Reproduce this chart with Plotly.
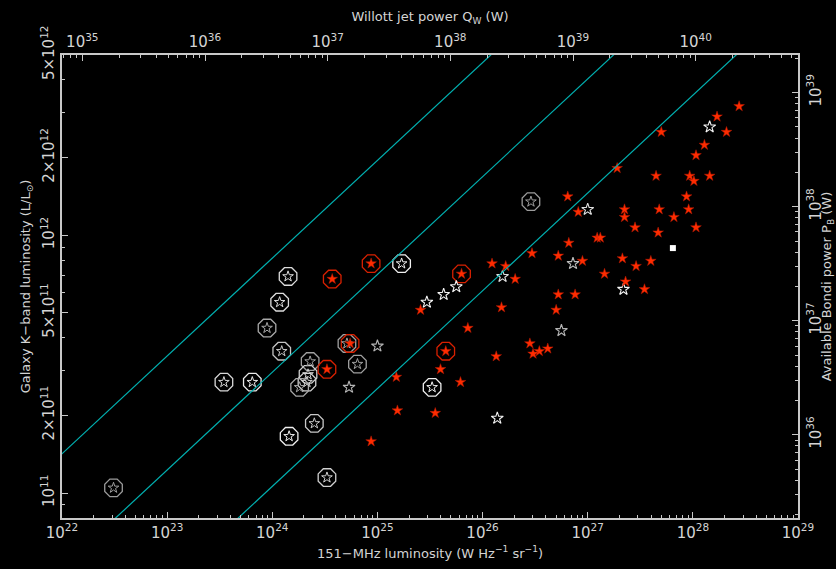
import numpy as np
import plotly.graph_objects as go

# ---------------- data (log10 values) ----------------
# Red filled stars: log10 L151 (W/Hz/sr), log10 L_K (L_sun)
red_logL = [25.41, 25.86, 25.60, 25.79, 25.18, 25.19, 25.55, 24.94, 27.28, 27.65,
            27.97, 28.01, 28.16, 26.81, 26.91, 27.35, 27.35, 27.68, 27.94, 27.96,
            27.82, 28.03, 27.45, 27.67, 27.09, 27.12, 26.82, 26.47, 26.72, 26.95,
            27.33, 27.60, 27.46, 26.09, 26.22, 26.31, 27.16, 27.36, 27.54, 26.72,
            26.88, 26.18, 26.70, 26.45, 26.54, 26.48, 26.62, 26.13, 28.44, 28.23,
            28.32, 28.11, 28.03, 27.70]
red_logK = [11.71, 11.64, 11.48, 11.43, 11.45, 11.32, 11.31, 11.20, 12.26, 12.23,
            12.23, 12.21, 12.23, 12.15, 12.09, 12.10, 12.07, 12.10, 12.15, 12.10,
            12.07, 12.03, 12.03, 12.01, 11.99, 11.99, 11.97, 11.93, 11.92, 11.90,
            11.91, 11.90, 11.88, 11.89, 11.88, 11.83, 11.85, 11.82, 11.79, 11.77,
            11.77, 11.72, 11.71, 11.58, 11.55, 11.54, 11.56, 11.53, 12.50, 12.46,
            12.40, 12.35, 12.31, 12.40]

# Red stars with red circles
redc_logL = [24.57, 24.94, 24.52, 24.74, 25.65, 25.80]
redc_logK = [11.83, 11.89, 11.48, 11.58, 11.55, 11.85]

# White open stars with circles
whc_logL = [24.15, 24.07, 23.95, 24.09, 23.81, 24.36, 24.34, 24.33, 24.26, 24.71,
            24.81, 25.23, 25.52, 24.40, 24.16, 22.49, 24.52, 26.46, 23.54]
whc_logK = [11.84, 11.74, 11.64, 11.55, 11.43, 11.51, 11.46, 11.43, 11.41, 11.58,
            11.50, 11.89, 11.41, 11.27, 11.22, 11.02, 11.06, 12.13, 11.43]
whc_shade = ["#dcdcdc", "#dcdcdc", "#a8a8a8", "#c4c4c4", "#ececec", "#a0a0a0",
             "#d0d0d0", "#d0d0d0", "#a8a8a8", "#a0a0a0", "#a0a0a0", "#f0f0f0",
             "#f0f0f0", "#c8c8c8", "#f0f0f0", "#9c9c9c", "#d0d0d0", "#9c9c9c", "#d8d8d8"]

# White open stars without circles
wh_logL = [25.00, 24.73, 25.47, 25.63, 25.75, 27.00, 26.19, 26.86, 27.34, 26.75, 28.16, 26.14]
wh_logK = [11.57, 11.41, 11.74, 11.77, 11.80, 12.10, 11.84, 11.89, 11.79, 11.63, 12.42, 11.29]
wh_shade = ["#b4b4b4", "#b4b4b4", "#f4f4f4", "#f4f4f4", "#f4f4f4", "#e0e0e0",
            "#e0e0e0", "#bcbcbc", "#f4f4f4", "#b4b4b4", "#f4f4f4", "#f4f4f4"]

# White square
sq_logL = [27.81]
sq_logK = [11.95]

# Ratios Q_W / P_B for the diagonal lines
ratios = [0.1, 1.0, 10.0]

# Axis ranges / conversions
x_range_log = [22.0, 29.0]
y_range_log = [np.log10(8e10), np.log10(5e12)]
willott_f = 10.0          # Q_W = 3e38 f^1.5 (L151/1e28)^(6/7) W
bondi_log_at_1e11 = 35.49  # log10 P_B at L_K = 1e11 L_sun
bondi_slope = 2.26

x_ticks = [22, 23, 24, 25, 26, 27, 28, 29]
q_ticks = [35, 36, 37, 38, 39, 40]
p_ticks = [36, 37, 38, 39]
k_tick_vals = [1e11, 2e11, 5e11, 1e12, 2e12, 5e12]
k_tick_text = ["10<sup>11</sup>", "2×10<sup>11</sup>", "5×10<sup>11</sup>",
               "10<sup>12</sup>", "2×10<sup>12</sup>", "5×10<sup>12</sup>"]


def logQ(logL):
    return np.log10(3e38 * willott_f ** 1.5) + (6.0 / 7.0) * (np.asarray(logL) - 28.0)


def logP(logK):
    return bondi_log_at_1e11 + bondi_slope * (np.asarray(logK) - 11.0)


q_range_log = [float(logQ(x_range_log[0])), float(logQ(x_range_log[1]))]
p_range_log = [float(logP(y_range_log[0])), float(logP(y_range_log[1]))]

# ---------------- styling ----------------
AX = "#c8c8c8"
TXT = "#d4d4d4"
FONT = "DejaVu Sans"
CYAN = "#00b0b0"
RED = "#ff2c00"


def minor_vals(lo, hi):
    out = []
    for d in range(int(np.floor(lo)) - 1, int(np.ceil(hi)) + 1):
        for m in range(2, 10):
            v = m * 10.0 ** d
            if lo <= np.log10(v) <= hi:
                out.append(v)
    return out


fig = go.Figure()

# diagonal lines Q_W = r * P_B on the (Q, P) axes
p_line = np.array([1e34, 1e41])
for r in ratios:
    fig.add_trace(go.Scatter(x=r * p_line, y=p_line, xaxis="x2", yaxis="y2",
                             mode="lines", line=dict(color=CYAN, width=1.2),
                             hoverinfo="skip", showlegend=False))

# circles around white stars
fig.add_trace(go.Scatter(x=10 ** np.array(whc_logL), y=10 ** np.array(whc_logK),
                         mode="markers",
                         marker=dict(symbol="octagon-open", size=19, color=whc_shade,
                                     line=dict(width=1.3)),
                         showlegend=False, hoverinfo="skip"))
# circles around red stars
fig.add_trace(go.Scatter(x=10 ** np.array(redc_logL), y=10 ** np.array(redc_logK),
                         mode="markers",
                         marker=dict(symbol="octagon-open", size=19, color="#d82000",
                                     line=dict(width=1.3)),
                         showlegend=False, hoverinfo="skip"))
# white stars inside circles
fig.add_trace(go.Scatter(x=10 ** np.array(whc_logL), y=10 ** np.array(whc_logK),
                         mode="markers",
                         marker=dict(symbol="star-open", size=8, color=whc_shade,
                                     line=dict(width=1)),
                         showlegend=False))
# white open stars
fig.add_trace(go.Scatter(x=10 ** np.array(wh_logL), y=10 ** np.array(wh_logK),
                         mode="markers",
                         marker=dict(symbol="star-open", size=9, color=wh_shade,
                                     line=dict(width=1.1)),
                         showlegend=False))
# red stars
all_red_L = red_logL + redc_logL
all_red_K = red_logK + redc_logK
fig.add_trace(go.Scatter(x=10 ** np.array(all_red_L), y=10 ** np.array(all_red_K),
                         mode="markers",
                         marker=dict(symbol="star", size=8, color=RED,
                                     line=dict(width=0.5, color="#b01800")),
                         showlegend=False))
# white square
fig.add_trace(go.Scatter(x=10 ** np.array(sq_logL), y=10 ** np.array(sq_logK),
                         mode="markers",
                         marker=dict(symbol="square", size=6, color="#ffffff"),
                         showlegend=False))

common = dict(type="log", showgrid=False, zeroline=False, showline=True,
              linecolor=AX, linewidth=1.5, ticks="inside", ticklen=6, tickwidth=1.2,
              tickcolor=AX, tickfont=dict(family=FONT, size=15, color=TXT),
              automargin=False)

fig.update_layout(
    width=836, height=569,
    paper_bgcolor="black", plot_bgcolor="black",
    margin=dict(l=62, r=38, t=55, b=51),
    showlegend=False,
    xaxis=dict(**common, range=x_range_log,
               tickvals=[10.0 ** v for v in x_ticks],
               ticktext=["10<sup>%d</sup>" % v for v in x_ticks],
               minor=dict(ticks="inside", ticklen=3, tickcolor=AX, tickwidth=1.1,
                          tickvals=minor_vals(*x_range_log), showgrid=False),
               title=dict(text="151−MHz luminosity (W Hz<sup>−1</sup> sr<sup>−1</sup>)",
                          font=dict(family=FONT, size=13, color=TXT), standoff=8)),
    xaxis2=dict(**common, range=q_range_log, overlaying="x", side="top", anchor="y",
                tickvals=[10.0 ** v for v in q_ticks],
                ticktext=["10<sup>%d</sup>" % v for v in q_ticks],
                minor=dict(ticks="inside", ticklen=3, tickcolor=AX, tickwidth=1.1,
                           tickvals=minor_vals(*q_range_log), showgrid=False),
                title=dict(text="Willott jet power Q<sub>W</sub> (W)",
                           font=dict(family=FONT, size=13, color=TXT), standoff=6)),
    yaxis=dict(**common, range=y_range_log, tickangle=-90,
               tickvals=k_tick_vals, ticktext=k_tick_text,
               minor=dict(ticks="inside", ticklen=3, tickcolor=AX, tickwidth=1.1,
                          tickvals=minor_vals(*y_range_log), showgrid=False),
               title=dict(text="Galaxy K−band luminosity (L/L<sub>⊙</sub>)",
                          font=dict(family=FONT, size=13, color=TXT), standoff=4)),
    yaxis2=dict(**common, range=p_range_log, overlaying="y", side="right", anchor="x",
                tickangle=-90, ticklabelstandoff=3,
                tickvals=[10.0 ** v for v in p_ticks],
                ticktext=["10<sup>%d</sup>" % v for v in p_ticks],
                minor=dict(ticks="inside", ticklen=3, tickcolor=AX, tickwidth=1.1,
                           tickvals=minor_vals(*p_range_log), showgrid=False),
                title=dict(text="Available Bondi power P<sub>B</sub> (W)",
                           font=dict(family=FONT, size=13, color=TXT), standoff=0)),
)

fig.write_html(
    "out.html",
    config={"displayModeBar": False},
    post_script="document.body.style.margin='0px';"
                "document.body.style.background='black';"
                "document.documentElement.style.background='black';",
)
